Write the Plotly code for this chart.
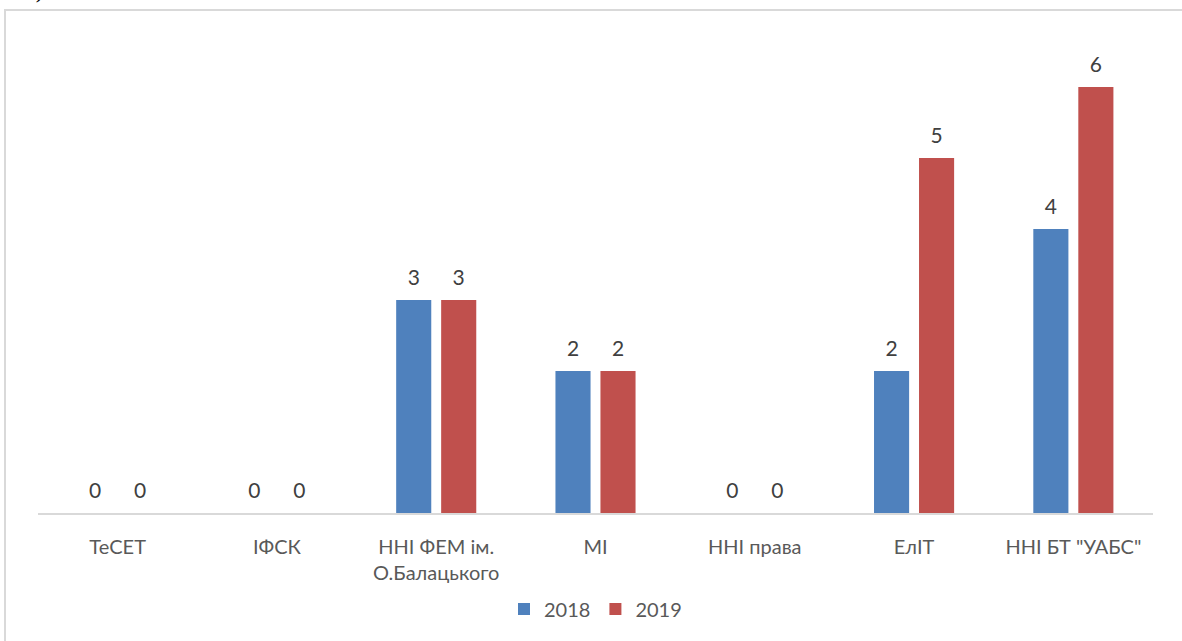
import plotly.graph_objects as go

categories = ["ТеСЕТ", "ІФСК", "ННІ ФЕМ ім.<br>О.Балацького", "МІ", "ННІ права", "ЕлІТ", "ННІ БТ \"УАБС\""]
series_names = ["2018", "2019"]
values_2018 = [0, 0, 3, 2, 0, 2, 4]
values_2019 = [0, 0, 3, 2, 0, 5, 6]
colors = ["#4F81BD", "#C0504D"]

W, H = 1182, 641
L, R, T, B = 38, 29, 16, 128
pw, ph = W - L - R, H - T - B

def px_to_paper_x(px):
    return (px - L) / pw

def px_to_paper_y(py):
    return (H - B - py) / ph

FONT = "Lato, 'Open Sans', sans-serif"
GAP = 0.435

fig = go.Figure()
for name, vals, col in zip(series_names, [values_2018, values_2019], colors):
    fig.add_trace(go.Bar(
        x=categories, y=vals, name=name, offsetgroup=name,
        marker=dict(color=col, line=dict(width=0)),
        hoverinfo="x+y+name",
    ))
for name, vals in zip(series_names, [values_2018, values_2019]):
    fig.add_trace(go.Scatter(
        x=categories, y=vals, name=name, offsetgroup=name,
        mode="markers+text", marker=dict(size=14, opacity=0),
        text=[str(v) for v in vals], textposition="top center",
        textfont=dict(size=21, color="#404040", family=FONT),
        cliponaxis=False, showlegend=False, hoverinfo="skip",
    ))

fig.update_layout(
    width=W, height=H,
    margin=dict(l=L, r=R, t=T, b=B),
    paper_bgcolor="white", plot_bgcolor="white",
    barmode="group", bargap=GAP, bargroupgap=0.22,
    scattermode="group", scattergap=GAP,
    font=dict(family=FONT, size=20, color="#595959"),
    showlegend=True,
    legend=dict(orientation="h", x=0.5, xanchor="center",
                y=px_to_paper_y(609), yanchor="middle",
                font=dict(size=20, color="#595959"),
                itemwidth=30, traceorder="normal"),
    xaxis=dict(showgrid=False, showline=True, linecolor="#D9D9D9", linewidth=2,
               ticks="", tickfont=dict(size=20, color="#595959"),
               ticklabelstandoff=15),
    yaxis=dict(range=[0, 7], visible=False, showgrid=False, zeroline=False),
    shapes=[dict(type="rect", xref="paper", yref="paper",
                 x0=px_to_paper_x(5), x1=1.6, y0=-0.6, y1=px_to_paper_y(10),
                 line=dict(color="#D9D9D9", width=2), fillcolor="rgba(0,0,0,0)",
                 layer="below")],
    annotations=[dict(text="ті).", xref="paper", yref="paper",
                      x=px_to_paper_x(18), y=px_to_paper_y(5), xanchor="left", yanchor="bottom",
                      showarrow=False, font=dict(size=22, color="black", family="Liberation Serif"),
                      )],
)

fig.write_html("out.html", config={"displayModeBar": False},
               post_script="document.body.style.margin='0px';document.body.style.overflow='hidden';")
